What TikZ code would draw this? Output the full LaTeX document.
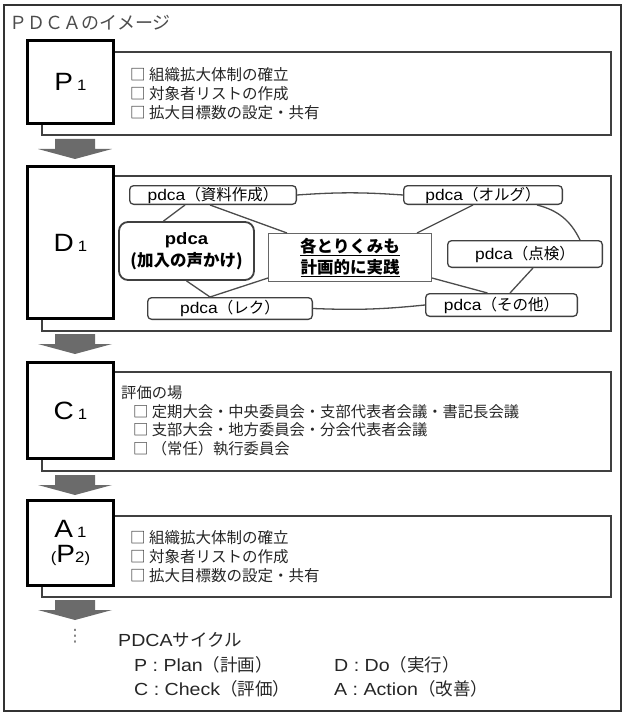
\documentclass[tikz,border=0pt]{standalone}
\usepackage{fontspec}
\setmainfont{Noto Sans CJK JP}
\newfontfamily\lat{Liberation Sans}[FakeStretch=1.12]
\newfontfamily\sym{DejaVu Sans}
\newcommand{\stagelabel}[2]{{\lat\fontsize{25}{25}\selectfont #1}\hspace{4pt}{\lat\fontsize{15}{15}\selectfont #2}}

\begin{document}
\begin{tikzpicture}[x=1pt, y=-1pt,
    stagebox/.style={draw=black, line width=2.6pt, fill=white, minimum width=86pt, inner sep=0pt},
    panel/.style={draw=black!75, line width=1.1pt},
    item/.style={draw=black!75, line width=1.3pt, rounded corners=4pt, fill=white, inner sep=0pt, font=\fontsize{15.5}{18}\selectfont},
    link/.style={draw=black!70, line width=1.3pt},
    listtext/.style={align=left, anchor=west, inner sep=0pt, text=black!85, font=\fontsize{15.5}{19}\selectfont},
    downarrow/.style={fill=black!58}]
    \useasboundingbox (0,0) rectangle (626,714);
    \draw[black!80, line width=1.2pt] (4,5) rectangle (621,711);
    \node[anchor=base west, inner sep=0pt, text=black!70, font=\fontsize{18}{18}\selectfont] (title) at (9,30) {ＰＤＣＡのイメージ};

    \draw[panel] (42,52) rectangle (611,135);
    \draw[panel] (42,176) rectangle (611,331);
    \draw[panel] (42,372) rectangle (611,471);
    \draw[panel] (42,516) rectangle (611,597);

    \foreach \y in {139, 334, 475, 600}{
        \fill[downarrow] (55,\y) -- (95,\y) -- (95,\y+10) -- (112,\y+10) -- (75,\y+20) -- (38,\y+10) -- (55,\y+10) -- cycle;
    }

    \node[stagebox, minimum height=83.4pt] (boxP) at (70.5,82) {\stagelabel{P}{1}};
    \node[stagebox, minimum height=152.4pt] (boxD) at (70.5,242.5) {\stagelabel{D}{1}};
    \node[stagebox, minimum height=96.4pt] (boxC) at (70.5,410.5) {\stagelabel{C}{1}};
    \node[stagebox, minimum height=85.4pt, align=center] (boxA) at (70.5,543) {\stagelabel{A}{1}\\[7pt]{\lat\fontsize{15}{15}\selectfont (}{\lat\fontsize{25}{25}\selectfont P}{\lat\fontsize{15}{15}\selectfont 2)}};

    \node[listtext] (listP) at (130,94) {□ 組織拡大体制の確立\\□ 対象者リストの作成\\□ 拡大目標数の設定・共有};
    \node[listtext, font=\fontsize{15.3}{18.5}\selectfont] (listC) at (121,421) {評価の場\\\hspace*{12pt}□ 定期大会・中央委員会・支部代表者会議・書記長会議\\\hspace*{12pt}□ 支部大会・地方委員会・分会代表者会議\\\hspace*{12pt}□ （常任）執行委員会};
    \node[listtext] (listA) at (130,557) {□ 組織拡大体制の確立\\□ 対象者リストの作成\\□ 拡大目標数の設定・共有};

    \node[item, minimum width=166.7pt, minimum height=18.7pt] (shiryo) at (213,195) {{\lat pdca}（資料作成）};
    \node[item, minimum width=158.7pt, minimum height=18.7pt] (orugu) at (483,195) {{\lat pdca}（オルグ）};
    \node[item, minimum width=154.7pt, minimum height=26.7pt] (tenken) at (525,254) {{\lat pdca}（点検）};
    \node[item, minimum width=164.7pt, minimum height=21.7pt] (reku) at (230,308.5) {{\lat pdca}（レク）};
    \node[item, minimum width=151.7pt, minimum height=22.7pt] (sonota) at (501.5,305) {{\lat pdca}（その他）};
    \node[item, rounded corners=9pt, line width=1.8pt, minimum width=135pt, minimum height=58pt, align=center, font=\bfseries\fontsize{16.5}{22}\selectfont] (kanyu) at (186.5,251) {{\lat pdca}\\(加入の声かけ)};
    \node[draw=black!60, line width=1pt, fill=white, minimum width=163pt, minimum height=48pt, inner sep=0pt, align=center, font=\bfseries\fontsize{16.5}{21}\selectfont] (jissen) at (350,257.5) {\underline{各とりくみも}\\\underline{計画的に実践}};

    \draw[link] (shiryo.east) to[bend left=4] (orugu.west);
    \draw[link] ([xshift=-28pt]shiryo.south) -- ([xshift=-23pt]kanyu.north);
    \draw[link] ([xshift=-3pt]shiryo.south) -- ([xshift=-63pt]jissen.north);
    \draw[link] ([xshift=67pt]jissen.north) -- ([xshift=-10pt]orugu.south);
    \draw[link] ([xshift=54pt]orugu.south) to[bend left=25] ([xshift=55pt]tenken.north);
    \draw[link] ([xshift=8pt]tenken.south) -- ([xshift=8.5pt]sonota.north);
    \draw[link] ([yshift=4pt]jissen.south east) -- ([xshift=-14pt]sonota.north);
    \draw[link] (sonota.west) to[bend left=4] (reku.east);
    \draw[link] (kanyu.south) -- ([xshift=-20pt]reku.north);
    \draw[link] ([xshift=-20pt]reku.north) -- ([yshift=4pt]jissen.south west);

    \node[inner sep=0pt, text=black!55, font=\sym\fontsize{17}{17}\selectfont] (dots) at (75,636) {⋮};
    \node[anchor=west, inner sep=0pt, text=black!85, font=\fontsize{17.5}{17.5}\selectfont] (cycle) at (118,640) {{\lat PDCA}サイクル};
    \node[listtext, font=\fontsize{17.5}{24}\selectfont] (legendL) at (134,677) {{\lat P : Plan}（計画）\\{\lat C : Check}（評価）};
    \node[listtext, font=\fontsize{17.5}{24}\selectfont] (legendR) at (334,677) {{\lat D : Do}（実行）\\{\lat A : Action}（改善）};
\end{tikzpicture}
\end{document}
